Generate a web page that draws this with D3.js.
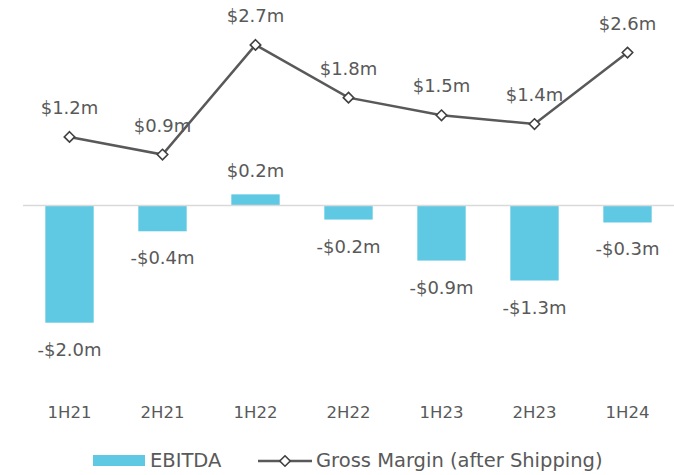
<!DOCTYPE html>
<html>
<head>
<meta charset="utf-8">
<script src="https://cdn.jsdelivr.net/npm/d3@7"></script>
<style>
  body { margin: 0; background: #fff; }
  text { font-family: "DejaVu Sans", sans-serif; fill: #595959; }
</style>
</head>
<body>
<div id="viz"></div>
<script>
const periods = ["1H21", "2H21", "1H22", "2H22", "1H23", "2H23", "1H24"];
const ebitda = [-2.0, -0.44, 0.19, -0.24, -0.94, -1.28, -0.29];
const grossMargin = [1.17, 0.87, 2.74, 1.84, 1.54, 1.39, 2.61];

const width = 674;
const height = 475;

const fmt = v => (v < 0 ? "-$" : "$") + Math.abs(v).toFixed(1) + "m";

const svg = d3.select("#viz")
  .append("svg")
  .attr("width", width)
  .attr("height", height);

const x = d3.scaleBand()
  .domain(periods)
  .range([23, 674])
  .paddingInner(0.48)
  .paddingOuter(0.24);

const y = d3.scaleLinear()
  .domain([-2.5, 3])
  .range([352, 29.7]);

const cx = d => x(d) + x.bandwidth() / 2;

// bars
svg.selectAll(".bar")
  .data(periods)
  .enter().append("rect")
  .attr("class", "bar")
  .attr("x", d => x(d))
  .attr("width", x.bandwidth())
  .attr("y", (d, i) => y(Math.max(0, ebitda[i])))
  .attr("height", (d, i) => Math.abs(y(ebitda[i]) - y(0)))
  .attr("fill", "#5FC9E4");

// zero line
svg.append("line")
  .attr("x1", 23).attr("x2", 674)
  .attr("y1", y(0)).attr("y2", y(0))
  .attr("stroke", "#D9D9D9")
  .attr("stroke-width", 1.5);

// bar labels
svg.selectAll(".barLabel")
  .data(periods)
  .enter().append("text")
  .attr("x", d => cx(d))
  .attr("y", (d, i) => ebitda[i] < 0 ? y(ebitda[i]) + 33 : y(ebitda[i]) - 17)
  .attr("text-anchor", "middle")
  .style("font-size", "18px")
  .text((d, i) => fmt(ebitda[i]));

// line
const line = d3.line()
  .x((d, i) => cx(periods[i]))
  .y(d => y(d));

svg.append("path")
  .datum(grossMargin)
  .attr("d", line)
  .attr("fill", "none")
  .attr("stroke", "#595959")
  .attr("stroke-width", 2.5);

const diamond = d3.symbol().type(d3.symbolDiamond2).size(70);

svg.selectAll(".marker")
  .data(grossMargin)
  .enter().append("path")
  .attr("d", diamond)
  .attr("transform", (d, i) => `translate(${cx(periods[i])},${y(d)})`)
  .attr("fill", "#fff")
  .attr("stroke", "#404040")
  .attr("stroke-width", 1.6);

svg.selectAll(".lineLabel")
  .data(grossMargin)
  .enter().append("text")
  .attr("x", (d, i) => cx(periods[i]))
  .attr("y", d => y(d) - 23)
  .attr("text-anchor", "middle")
  .style("font-size", "18px")
  .text(d => fmt(d));

// x labels
svg.selectAll(".xLabel")
  .data(periods)
  .enter().append("text")
  .attr("x", d => cx(d))
  .attr("y", 418)
  .attr("text-anchor", "middle")
  .style("font-size", "16.5px")
  .text(d => d);

// legend
const legend = svg.append("g");
legend.append("rect")
  .attr("x", 93).attr("y", 455)
  .attr("width", 52).attr("height", 11)
  .attr("fill", "#5FC9E4");
legend.append("text")
  .attr("x", 150).attr("y", 467)
  .style("font-size", "19.5px")
  .text("EBITDA");
legend.append("line")
  .attr("x1", 258).attr("x2", 312)
  .attr("y1", 461).attr("y2", 461)
  .attr("stroke", "#595959")
  .attr("stroke-width", 2.5);
legend.append("path")
  .attr("d", diamond)
  .attr("transform", "translate(285,461)")
  .attr("fill", "#fff")
  .attr("stroke", "#404040")
  .attr("stroke-width", 1.6);
legend.append("text")
  .attr("x", 316).attr("y", 467)
  .style("font-size", "19.5px")
  .text("Gross Margin (after Shipping)");
</script>
</body>
</html>
